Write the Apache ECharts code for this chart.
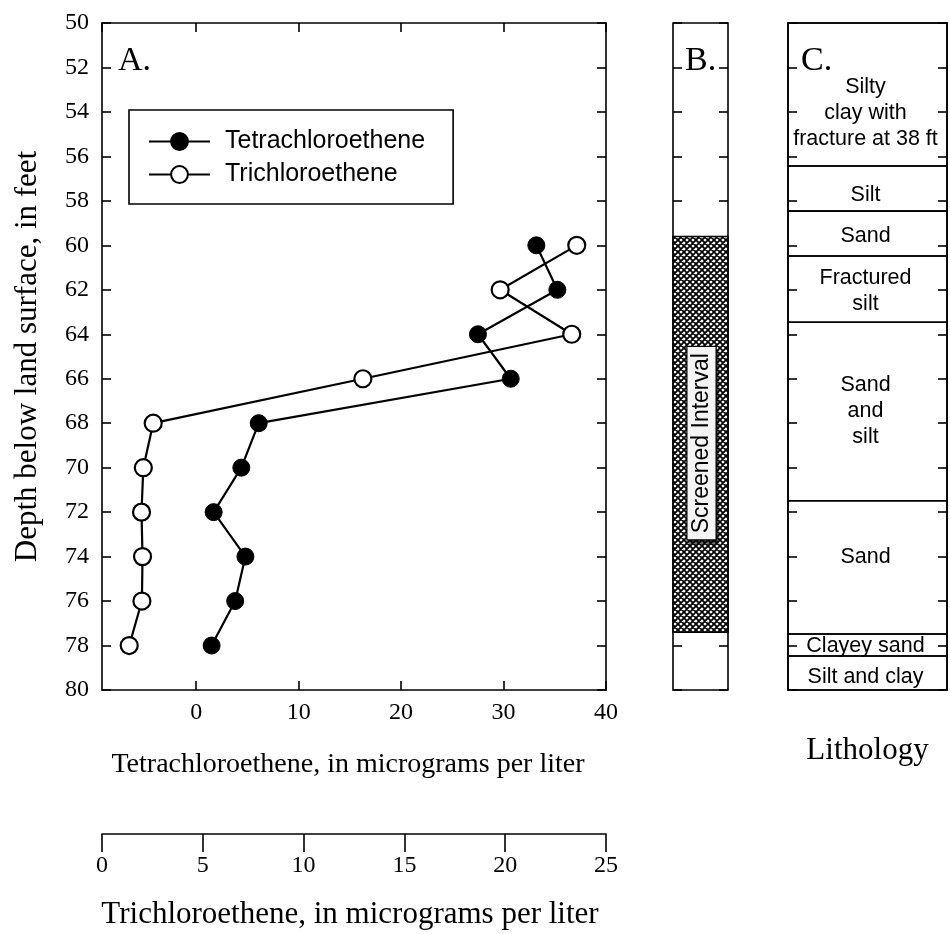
<!DOCTYPE html>
<html><head><meta charset="utf-8">
<script src="https://cdn.jsdelivr.net/npm/echarts@6/dist/echarts.min.js"></script>
<style>html,body{margin:0;padding:0;background:#fff}#c{width:950px;height:934px}</style>
</head><body><div id="c"></div>
<script>
// ---- data ----
const depths = [60, 62, 64, 66, 68, 70, 72, 74, 76, 78];
const pceValues = [33.2, 35.25, 27.5, 30.7, 6.1, 4.4, 1.7, 4.8, 3.8, 1.5];
const tceValues = [23.55, 19.75, 23.3, 12.94, 2.54, 2.05, 1.96, 2.01, 1.98, 1.35];
const seriesNames = ['Tetrachloroethene', 'Trichloroethene'];
const depthRange = [50, 80];
const pceRange = [-9.2, 40];
const tceRange = [0, 25];
const screenedInterval = [59.6, 77.4];
const screenedLabelDepth = 68.9;
const layerNames = ['Silty\nclay with\nfracture at 38 ft', 'Silt', 'Sand', 'Fractured\nsilt', 'Sand\nand\nsilt', 'Sand', 'Clayey sand', 'Silt and clay'];
const layerTops = [50, 56.43, 58.46, 60.48, 63.46, 71.49, 77.48, 78.47];
const layerBottoms = [56.43, 58.46, 60.48, 63.46, 71.49, 77.48, 78.47, 80];
const layerLabelDepths = [54.07, 57.74, 59.6, 62.06, 67.45, 74.0, 78.02, 79.4];

const SERIF = 'Liberation Serif';
const SANS = 'Liberation Sans';

function hatchPattern() {
  const s = 6;
  const c = document.createElement('canvas');
  c.width = s; c.height = s;
  const g = c.getContext('2d');
  g.fillStyle = '#fff'; g.fillRect(0, 0, s, s);
  g.strokeStyle = '#000'; g.lineWidth = 1.8;
  g.beginPath();
  for (const dx of [-s, 0, s]) {
    g.moveTo(dx, 0); g.lineTo(dx + s, s);
    g.moveTo(dx + s, 0); g.lineTo(dx, s);
  }
  g.stroke();
  return c;
}
const pattern = { image: hatchPattern(), repeat: 'repeat' };

const axisLineStyle = { lineStyle: { color: '#000', width: 1.6 } };
const tickIn = { show: true, inside: true, length: 9, lineStyle: { color: '#000', width: 1.6 } };

function depthAxis(gridIndex, position, withLabels) {
  return {
    type: 'value', gridIndex, position, inverse: true,
    min: depthRange[0], max: depthRange[1], interval: 2,
    axisLine: { show: gridIndex === 0, onZero: false, ...axisLineStyle },
    axisTick: tickIn,
    axisLabel: withLabels ? { show: true, color: '#000', fontFamily: SERIF, fontSize: 24, margin: 13 } : { show: false },
    splitLine: { show: false }
  };
}

const chart = echarts.init(document.getElementById('c'), null, { renderer: 'canvas' });
chart.setOption({
  animation: false,
  backgroundColor: '#fff',
  grid: [
    { left: 102, top: 23, width: 504, height: 667 },
    { left: 102, top: 833, width: 504, height: 1 },
    { left: 673, top: 23, width: 55, height: 667, show: true, borderColor: '#000', borderWidth: 1.6, backgroundColor: 'transparent' },
    { left: 788, top: 23, width: 159, height: 667, show: true, borderColor: '#000', borderWidth: 1.6, backgroundColor: 'transparent' }
  ],
  xAxis: [
    { type: 'value', gridIndex: 0, position: 'bottom', min: pceRange[0], max: pceRange[1],
      axisLine: { onZero: false, ...axisLineStyle }, axisTick: tickIn,
      axisLabel: { color: '#000', fontFamily: SERIF, fontSize: 24, margin: 11, showMinLabel: false },
      splitLine: { show: false },
      name: 'Tetrachloroethene, in micrograms per liter', nameLocation: 'middle', nameGap: 61,
      nameTextStyle: { color: '#000', fontFamily: SERIF, fontSize: 28, padding: [0, 12, 0, 0] } },
    { type: 'value', gridIndex: 0, position: 'top', min: pceRange[0], max: pceRange[1],
      axisLine: { onZero: false, ...axisLineStyle }, axisTick: tickIn,
      axisLabel: { show: false }, splitLine: { show: false } },
    { type: 'value', gridIndex: 0, min: tceRange[0], max: tceRange[1], show: false },
    { type: 'value', gridIndex: 1, position: 'bottom', min: tceRange[0], max: tceRange[1], interval: 5,
      axisLine: { onZero: false, ...axisLineStyle },
      axisTick: { show: true, inside: false, length: 18, lineStyle: { color: '#000', width: 1.6 } },
      axisLabel: { color: '#000', fontFamily: SERIF, fontSize: 24, margin: 20 },
      splitLine: { show: false },
      name: 'Trichloroethene, in micrograms per liter', nameLocation: 'middle', nameGap: 65,
      nameTextStyle: { color: '#000', fontFamily: SERIF, fontSize: 31, padding: [0, 8, 0, 0] } },
    { type: 'value', gridIndex: 2, min: 0, max: 1, show: false },
    { type: 'value', gridIndex: 3, min: 0, max: 1,
      axisLine: { show: false }, axisTick: { show: false }, axisLabel: { show: false }, splitLine: { show: false },
      name: 'Lithology', nameLocation: 'middle', nameGap: 45,
      nameTextStyle: { color: '#000', fontFamily: SERIF, fontSize: 31 } }
  ],
  yAxis: [
    Object.assign(depthAxis(0, 'left', true), {
      name: 'Depth below land surface, in feet', nameLocation: 'middle', nameGap: 59, nameRotate: 90,
      nameTextStyle: { color: '#000', fontFamily: SERIF, fontSize: 31 } }),
    depthAxis(0, 'right', false),
    { type: 'value', gridIndex: 1, min: 0, max: 1, show: false },
    depthAxis(2, 'left', false),
    depthAxis(2, 'right', false),
    depthAxis(3, 'left', false),
    depthAxis(3, 'right', false)
  ],
  legend: {
    orient: 'vertical', left: 129, top: 110,
    data: seriesNames,
    itemWidth: 61, itemHeight: 21, itemGap: 8,
    padding: [19, 28, 17, 19],
    borderColor: '#000', borderWidth: 1.6, borderRadius: 0,
    textStyle: { color: '#000', fontFamily: SANS, fontSize: 25, padding: [0, 0, 0, 10] }
  },
  graphic: [
    { type: 'text', x: 118, y: 61, style: { text: 'A.', fontFamily: SERIF, fontSize: 34, fill: '#000', verticalAlign: 'middle' } },
    { type: 'text', x: 685, y: 61, style: { text: 'B.', fontFamily: SERIF, fontSize: 34, fill: '#000', verticalAlign: 'middle' } },
    { type: 'text', x: 801, y: 61, style: { text: 'C.', fontFamily: SERIF, fontSize: 34, fill: '#000', verticalAlign: 'middle' } }
  ],
  series: [
    { name: seriesNames[1], type: 'line', xAxisIndex: 2, yAxisIndex: 0,
      data: tceValues.map((v, i) => [v, depths[i]]),
      symbol: 'circle', symbolSize: 17, showAllSymbol: true,
      lineStyle: { color: '#000', width: 2.2 },
      itemStyle: { color: '#fff', borderColor: '#000', borderWidth: 2.2 }, z: 3 },
    { name: seriesNames[0], type: 'line', xAxisIndex: 0, yAxisIndex: 0,
      data: pceValues.map((v, i) => [v, depths[i]]),
      symbol: 'circle', symbolSize: 17, showAllSymbol: true,
      lineStyle: { color: '#000', width: 2.2 },
      itemStyle: { color: '#000', borderColor: '#000', borderWidth: 1 }, z: 4 },
    { type: 'custom', xAxisIndex: 4, yAxisIndex: 3, silent: true,
      data: [[screenedInterval[0], screenedInterval[1], screenedLabelDepth]],
      encode: { x: -1, y: [0, 1] },
      renderItem: function (params, api) {
        const p1 = api.coord([0, api.value(0)]);
        const p2 = api.coord([1, api.value(1)]);
        const pl = api.coord([0.5, api.value(2)]);
        return { type: 'group', children: [
          { type: 'rect', shape: { x: p1[0], y: p1[1], width: p2[0] - p1[0], height: p2[1] - p1[1] },
            style: { fill: pattern, stroke: '#000', lineWidth: 1.4 } },
          { type: 'text', x: pl[0] + 1, y: pl[1], rotation: Math.PI / 2,
            style: { text: 'Screened Interval', fontFamily: SANS, fontSize: 23, fill: '#000',
              align: 'center', verticalAlign: 'middle',
              backgroundColor: '#f4f4f4', borderColor: '#000', borderWidth: 1.2, padding: [3, 6, 2, 6],
              shadowColor: 'rgba(0,0,0,0.6)', shadowBlur: 2, shadowOffsetX: 2, shadowOffsetY: 4 } }
        ] };
      } },
    { type: 'custom', xAxisIndex: 5, yAxisIndex: 5, silent: true,
      data: layerNames.map((n, i) => [layerTops[i], layerBottoms[i], layerLabelDepths[i], i]),
      encode: { x: -1, y: [0, 1] },
      renderItem: function (params, api) {
        const i = api.value(3);
        const p1 = api.coord([0, api.value(0)]);
        const p2 = api.coord([1, api.value(1)]);
        const pl = api.coord([0.5, api.value(2)]);
        return { type: 'group', children: [
          { type: 'rect', shape: { x: p1[0], y: p1[1], width: p2[0] - p1[0], height: p2[1] - p1[1] },
            style: { fill: 'none', stroke: '#000', lineWidth: 1.6 } },
          { type: 'text', x: pl[0] - 2, y: pl[1],
            style: { text: layerNames[i], fontFamily: SANS, fontSize: 21.5, lineHeight: 26, fill: '#000',
              align: 'center', verticalAlign: 'middle' } }
        ] };
      } }
  ]
});
</script></body></html>
